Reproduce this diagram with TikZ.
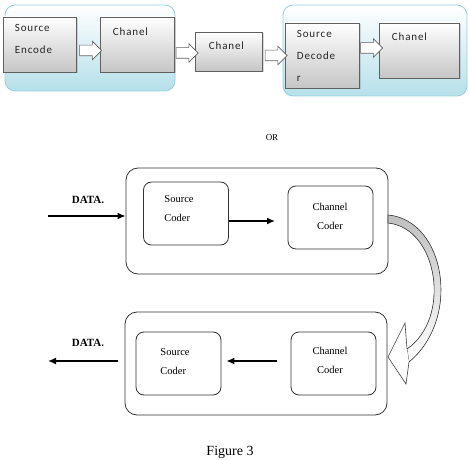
\documentclass[tikz,border=0pt]{standalone}
\usepackage{fontspec}
\setmainfont{Liberation Serif}
\newfontfamily\topfont[LetterSpace=8]{Carlito}
\usetikzlibrary{arrows.meta,calc,shapes.arrows,shadows}
\definecolor{palecyan}{RGB}{182,224,234}
\definecolor{edgecyan}{RGB}{150,206,224}

\tikzset{
	grp/.style={draw=edgecyan, line width=0.8pt, rounded corners=10pt, top color=white, bottom color=palecyan, inner sep=0pt},
	blk/.style={draw=gray!75!black, line width=0.6pt, top color=white, bottom color=gray!45, inner sep=0pt,
		drop shadow={opacity=0.3, shadow xshift=1.5pt, shadow yshift=-1.5pt}},
	blktxt/.style={anchor=north west, inner sep=0pt, align=left, text=black!85, font=\topfont\fontsize{11}{22}\selectfont},
	hollow/.style={single arrow, draw=gray!75!black, fill=white, line width=0.6pt, inner sep=5pt,
		single arrow head extend=4pt, minimum height=22pt},
	outer/.style={draw=black!80, line width=0.8pt, rounded corners=12pt, inner sep=0pt},
	inner/.style={draw=black!80, line width=0.8pt, rounded corners=8pt, inner sep=0pt, minimum width=85pt, minimum height=63pt},
	cdtxt/.style={inner sep=0pt, align=left, font=\fontsize{10.5}{19}\selectfont},
	flow/.style={line width=1.4pt, -{Latex[length=8pt,width=7pt]}},
}

\begin{document}
\begin{tikzpicture}[x=1pt, y=-1pt]
		%%%%% START %%%%%
		\useasboundingbox (0,0) rectangle (469,460);
		
		% top row
		\node[grp, minimum width=170pt, minimum height=86pt] (encgrp) at (90,48) {};
		\node[grp, minimum width=184pt, minimum height=91pt] (decgrp) at (375,50.5) {};
		
		\node[blk, minimum width=73pt, minimum height=55pt] (srcenc) at (39.5,44.5) {};
		\node[blk, minimum width=74pt, minimum height=55pt] (chan1) at (137,44.5) {};
		\node[blk, minimum width=67pt, minimum height=39pt] (chan2) at (228.5,51.5) {};
		\node[blk, minimum width=74pt, minimum height=65pt] (srcdec) at (322,55.5) {};
		\node[blk, minimum width=80pt, minimum height=55pt] (chan3) at (419,50.5) {};
		
		\node[blktxt] (t1) at ([xshift=12pt, yshift=-7pt]srcenc.north west) {Source\\Encode};
		\node[blktxt] (t2) at ([xshift=13pt, yshift=-11pt]chan1.north west) {Chanel};
		\node[blktxt] (t3) at ([xshift=14pt, yshift=-10pt]chan2.north west) {Chanel};
		\node[blktxt] (t4) at ([xshift=12pt, yshift=-7pt]srcdec.north west) {Source\\Decode\\r};
		\node[blktxt] (t5) at ([xshift=13pt, yshift=-10pt]chan3.north west) {Chanel};
		
		\node[hollow] (a1) at ($(srcenc.east)!0.5!(chan1.west)+(0,6)$) {};
		\node[hollow] (a2) at ($(chan1.east)!0.5!(chan2.west)+(0,5)$) {};
		\node[hollow] (a3) at ($(chan2.east)!0.5!(srcdec.west)+(0,2)$) {};
		\node[hollow] (a4) at ($(srcdec.east)!0.5!(chan3.west)+(0,-5)$) {};
		
		\node[font=\fontsize{9}{9}\selectfont] (or) at (272,138) {OR};
		
		% sender
		\node[outer, minimum width=262pt, minimum height=106pt] (send) at (257,221) {};
		\node[inner] (scod1) at (186,213.5) {};
		\node[inner] (ccod1) at (330.5,217.5) {};
		\node[cdtxt] (s1) at (179,209) {Source\\Coder};
		\node[cdtxt, align=center] (c1) at (330,216) {Channel\\Coder};
		
		\node[font=\bfseries\fontsize{11}{11}\selectfont] (din) at (88,200) {DATA.};
		\coordinate (inpt) at (48,216);
		\draw[flow] (inpt) -- (inpt -| send.west);
		\coordinate (m1) at (275,221);
		\draw[flow] (m1 -| scod1.east) -- (m1);
		
		% receiver
		\node[outer, minimum width=262pt, minimum height=103pt] (recv) at (256,363.5) {};
		\node[inner] (scod2) at (178.5,363.5) {};
		\node[inner] (ccod2) at (333.5,363.5) {};
		\node[cdtxt] (s2) at (175,362) {Source\\Coder};
		\node[cdtxt, align=center] (c2) at (330,360) {Channel\\Coder};
		
		\node[font=\bfseries\fontsize{11}{11}\selectfont] (dout) at (88,343) {DATA.};
		\coordinate (m2) at (277,361);
		\draw[flow, shorten >=5pt] (m2) -- (m2 -| scod2.east);
		\coordinate (outpt) at (48,361);
		\draw[flow, shorten <=7pt] (outpt -| recv.west) -- (outpt);
		
		% curved hollow arrow
		\filldraw[top color=gray!50, bottom color=white, draw=black!75, line width=0.6pt] (388,215) .. controls (445,220) and (462,318) .. (409,362)
			-- (407,349) .. controls (452,318) and (438,228) .. (388,223) -- cycle;
		\filldraw[fill=white, draw=black!75, line width=0.6pt] (407,349) -- (405,323) -- (388,357) -- (406,384) -- (409,362);
		
		\node[anchor=north, font=\fontsize{14}{14}\selectfont] (fig) at (230,443) {Figure 3};
		
		%%%%% END %%%%%
	\end{tikzpicture}
\end{document}
